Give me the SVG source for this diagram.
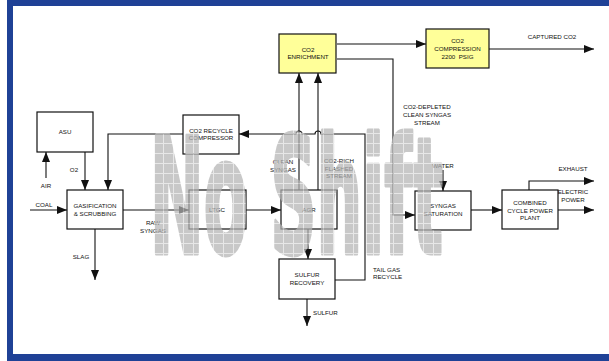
<svg xmlns="http://www.w3.org/2000/svg" width="609" height="361" viewBox="0 0 609 361">
<style>
.box{fill:#fff;stroke:#111;stroke-width:1.2}
.yel{fill:#ffff99;stroke:#111;stroke-width:1.2}
.t{font-family:"Liberation Sans",Arial,sans-serif;font-size:6.2px;fill:#111;text-anchor:middle}
.l{text-anchor:start}
.c{fill:none;stroke:#111;stroke-width:1.1}
</style>
<defs>
<marker id="ah" markerUnits="userSpaceOnUse" markerWidth="10" markerHeight="8" refX="10" refY="4" orient="auto"><path d="M0,0 L10,4 L0,8 Z" fill="#111"/></marker>
<pattern id="grid" patternUnits="userSpaceOnUse" x="3" y="3" width="10" height="10"><rect width="10" height="10" fill="#b4b4b4"/><path d="M0,0.5H10M0.5,0V10" stroke="#dedede" stroke-width="1"/></pattern>
</defs>
<rect x="7" y="0" width="610" height="361" fill="#1f4196"/>
<rect x="13" y="6" width="600" height="348" fill="#fff"/>

<g id="connectors">
<path class="c" d="M30,210 H67" marker-end="url(#ah)"/>
<path class="c" d="M46,178 V152" marker-end="url(#ah)"/>
<path class="c" d="M85,152 V190" marker-end="url(#ah)"/>
<path class="c" d="M183,134 H108 V190" marker-end="url(#ah)"/>
<path class="c" d="M95,229 V280" marker-end="url(#ah)"/>
<path class="c" d="M123,210 H189" marker-end="url(#ah)"/>
<path class="c" d="M246,210 H281" marker-end="url(#ah)"/>
<path class="c" d="M299,190 V73" marker-end="url(#ah)"/>
<path class="c" d="M318,190 V73" marker-end="url(#ah)"/>
<path class="c" d="M308,229 V259" marker-end="url(#ah)"/>
<path class="c" d="M307,299 V326" marker-end="url(#ah)"/>
<path class="c" d="M334,280 H365 V134 H321 A3,3 0 0 0 315,134 H302 A3,3 0 0 0 296,134 H239" marker-end="url(#ah)"/>
<path class="c" d="M337,44 H426" marker-end="url(#ah)"/>
<path class="c" d="M489,49 H594" marker-end="url(#ah)"/>
<path class="c" d="M337,59 H393 V215 H415" marker-end="url(#ah)"/>
<path class="c" d="M443,170 V191" marker-end="url(#ah)"/>
<path class="c" d="M471,210 H502" marker-end="url(#ah)"/>
<path class="c" d="M529,190 V181 H594" marker-end="url(#ah)"/>
<path class="c" d="M558,210 H594" marker-end="url(#ah)"/>
</g>

<g id="labels">
<text class="t" x="44" y="207">COAL</text>
<text class="t" x="46" y="188">AIR</text>
<text class="t" x="74" y="172">O2</text>
<text class="t" x="81" y="259">SLAG</text>
<text class="t" x="153" y="225">RAW</text>
<text class="t" x="153" y="233">SYNGAS</text>
<text class="t" x="283" y="164">CLEAN</text>
<text class="t" x="283" y="171.5">SYNGAS</text>
<text class="t" x="339" y="163">CO2-RICH</text>
<text class="t" x="339" y="170.5">FLASHED</text>
<text class="t" x="339" y="178">STREAM</text>
<text class="t" x="427" y="109">CO2-DEPLETED</text>
<text class="t" x="427" y="117">CLEAN SYNGAS</text>
<text class="t" x="427" y="125">STREAM</text>
<text class="t" x="552" y="39">CAPTURED CO2</text>
<text class="t" x="443" y="168">WATER</text>
<text class="t" x="573" y="171">EXHAUST</text>
<text class="t" x="573" y="194">ELECTRIC</text>
<text class="t" x="573" y="201.5">POWER</text>
<text class="t l" x="373" y="272">TAIL GAS</text>
<text class="t l" x="373" y="279">RECYCLE</text>
<text class="t l" x="313" y="315">SULFUR</text>
</g>

<g id="asu"><rect class="box" x="37" y="112" width="56" height="40"/><text class="t" x="65" y="134">ASU</text></g>
<g id="co2-recycle-compressor"><rect class="box" x="183" y="115" width="56" height="39"/><text class="t" x="211" y="133">CO2 RECYCLE</text><text class="t" x="211" y="140">COMPRESSOR</text></g>
<g id="co2-enrichment"><rect class="yel" x="279" y="34" width="57" height="39"/><text class="t" x="308" y="51.5">CO2</text><text class="t" x="308" y="59">ENRICHMENT</text></g>
<g id="co2-compression"><rect class="yel" x="426" y="29" width="63" height="39"/><text class="t" x="457.5" y="43">CO2</text><text class="t" x="457.5" y="51">COMPRESSION</text><text class="t" x="457.5" y="59" style="white-space:pre">2200  PSIG</text></g>
<g id="gasification"><rect class="box" x="67" y="190" width="56" height="39"/><text class="t" x="95" y="208">GASIFICATION</text><text class="t" x="95" y="215.5">&amp; SCRUBBING</text></g>
<g id="ltgc"><rect class="box" x="189" y="190" width="57" height="39"/><text class="t" x="217" y="212">LTGC</text></g>
<g id="agr"><rect class="box" x="281" y="190" width="56" height="39"/><text class="t" x="309" y="212">AGR</text></g>
<g id="sulfur-recovery"><rect class="box" x="279" y="259" width="56" height="40"/><text class="t" x="307" y="277">SULFUR</text><text class="t" x="307" y="284.5">RECOVERY</text></g>
<g id="syngas-saturation"><rect class="box" x="415" y="191" width="56" height="39"/><text class="t" x="443" y="208">SYNGAS</text><text class="t" x="443" y="215.5">SATURATION</text></g>
<g id="combined-cycle"><rect class="box" x="502" y="190" width="56" height="39"/><text class="t" x="530" y="205">COMBINED</text><text class="t" x="530" y="212.5">CYCLE POWER</text><text class="t" x="530" y="220">PLANT</text></g>

<text x="150" y="253" font-family="DejaVu Sans,sans-serif" font-weight="bold" font-size="160" textLength="293" lengthAdjust="spacingAndGlyphs" fill="url(#grid)" stroke="url(#grid)" stroke-width="5" stroke-linejoin="round" opacity="0.72">No Shift</text>
</svg>
